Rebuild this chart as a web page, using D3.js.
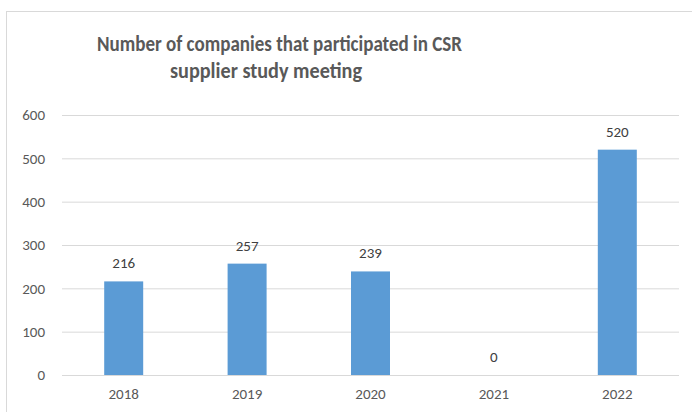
<!DOCTYPE html>
<html>
<head>
<meta charset="utf-8">
<script src="https://cdn.jsdelivr.net/npm/d3@7"></script>
<style>
  body { margin: 0; background: #fff; }
  svg text { font-family: Carlito, Lato, "Open Sans", sans-serif; }
</style>
</head>
<body>
<svg id="chart" width="692" height="412"></svg>
<script>
// data
const years = ["2018", "2019", "2020", "2021", "2022"];
const companies = [216, 257, 239, 0, 520];
const yTicks = [0, 100, 200, 300, 400, 500, 600];
const titleLines = ["Number of companies that participated in CSR", "supplier study meeting"];

let margin = {top: 115, right: 12, bottom: 37, left: 62},
    width = 679 - margin.left,
    height = 375 - margin.top;

const svg = d3.select("#chart");

// chart frame
svg.append("rect")
    .attr("x", 6.5).attr("y", 11.5)
    .attr("width", 700).attr("height", 420)
    .attr("fill", "none")
    .attr("stroke", "#d9d9d9");

// title (Calibri-like width, squeezed to fit)
const titlePos = [{x: 97, y: 51, len: 365}, {x: 170, y: 78, len: 192}];
svg.selectAll(".title")
    .data(titleLines)
    .enter().append("text")
    .attr("class", "title")
    .attr("x", (d, i) => titlePos[i].x)
    .attr("y", (d, i) => titlePos[i].y)
    .attr("textLength", (d, i) => titlePos[i].len)
    .attr("lengthAdjust", "spacingAndGlyphs")
    .attr("font-size", "23px")
    .attr("font-weight", "bold")
    .attr("fill", "#595959")
    .text(d => d);

const x = d3.scaleBand()
    .domain(years)
    .range([0, width])
    .paddingInner(0.684)
    .paddingOuter(0.342);

const y = d3.scaleLinear()
    .domain([0, 600])
    .range([height, 0]);

const g = svg.append("g")
    .attr("transform", "translate(" + margin.left + "," + margin.top + ")");

// gridlines + y labels
const yAxis = g.append("g")
    .call(d3.axisLeft(y).tickValues(yTicks).tickSize(-width).tickPadding(17));
yAxis.select(".domain").remove();
yAxis.selectAll(".tick line").attr("stroke", "#d9d9d9");
yAxis.selectAll(".tick text")
    .attr("fill", "#595959")
    .attr("font-size", "15px");

// bars
g.selectAll(".bar")
    .data(companies)
    .enter().append("rect")
    .attr("class", "bar")
    .attr("x", (d, i) => x(years[i]))
    .attr("y", d => y(d))
    .attr("width", x.bandwidth())
    .attr("height", d => height - y(d))
    .attr("fill", "#5b9bd5");

// value labels
g.selectAll(".label")
    .data(companies)
    .enter().append("text")
    .attr("class", "label")
    .attr("x", (d, i) => x(years[i]) + x.bandwidth() / 2)
    .attr("y", d => y(d) - 13)
    .attr("text-anchor", "middle")
    .attr("font-size", "15px")
    .attr("fill", "#404040")
    .text(d => d);

// x axis
const xAxis = g.append("g")
    .attr("transform", "translate(0," + height + ")")
    .call(d3.axisBottom(x).tickSize(0).tickPadding(13));
xAxis.select(".domain").remove();
xAxis.selectAll(".tick text")
    .attr("fill", "#595959")
    .attr("font-size", "15px");
</script>
</body>
</html>
